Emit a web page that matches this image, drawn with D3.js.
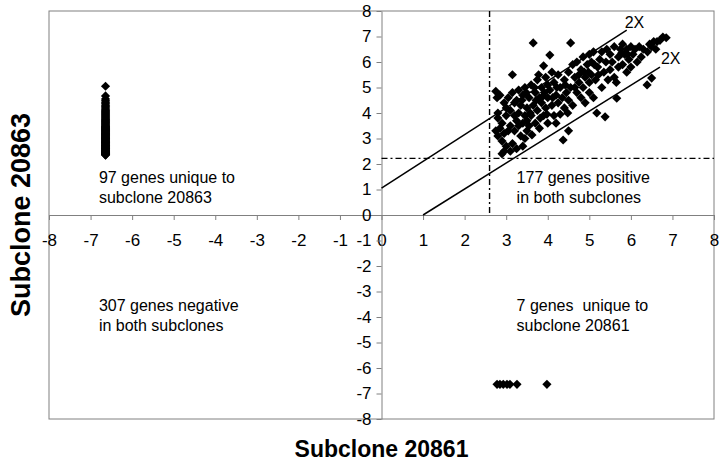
<!DOCTYPE html>
<html lang="en">
<head>
  <meta charset="UTF-8">
  <title>Subclone 20861 vs Subclone 20863</title>
  <script src="https://d3js.org/d3.v7.min.js"></script>
  <style>
    * { margin: 0; padding: 0; }
    body { background: #fff; font-family: 'Liberation Sans', Arial, sans-serif; }
    svg { display: block; }
    .tick text { font-family: 'Liberation Sans', Arial, sans-serif; font-size: 17px; fill: #000; }
    .note { font-size: 16px; fill: #000; white-space: pre; }
    .title { font-size: 23px; font-weight: bold; fill: #000; }
  </style>
</head>
<body>
  <div id="chart"></div>

  <script>
    // log2 signal, genes positive in both subclones [x = 20861, y = 20863]
    const bothPositive = [
      [2.75,4.85],[2.78,4.6],[2.8,3.8],[2.75,3.3],[2.8,3.1],[2.85,4.7],[2.9,3.6],[2.9,2.9],[2.95,2.5],
      [2.95,4.4],[2.85,3.4],[3.0,3.9],[3.0,2.7],[2.95,3.2],[2.8,4.0],[3.0,4.2],[2.9,2.4],
      [3.05,4.6],[3.1,3.5],[3.1,4.1],[3.15,5.5],[3.15,2.8],[3.2,3.3],[3.2,4.4],[3.25,3.7],[3.25,2.6],
      [3.3,4.0],[3.3,4.9],[3.35,3.1],[3.35,4.3],[3.4,2.7],[3.4,3.6],[3.4,4.7],[3.45,3.9],[3.45,5.0],
      [3.5,3.3],[3.5,4.2],[3.05,3.3],[3.1,2.5],[3.2,3.9],[3.3,3.5],[3.38,4.5],[3.48,4.8],[3.15,4.8],
      [3.25,4.5],[3.45,3.0],[3.5,3.7],
      [3.55,4.6],[3.6,5.1],[3.6,3.9],[3.62,3.14],[3.65,6.75],[3.65,4.3],[3.7,4.8],[3.7,3.6],[3.75,5.3],
      [3.75,4.1],[3.8,4.6],[3.8,3.4],[3.85,5.0],[3.85,4.4],[3.9,5.85],[3.9,3.9],[3.92,4.8],[3.95,5.4],
      [3.95,4.2],[4.0,4.6],[4.0,5.1],[4.0,3.6],[3.58,4.0],[3.68,5.0],[3.72,4.5],[3.82,3.8],[3.88,4.65],
      [3.98,3.95],[3.55,3.5],[3.78,5.5],
      [4.05,6.27],[4.05,4.9],[4.1,4.3],[4.1,5.6],[4.15,3.9],[4.15,5.2],[4.2,4.7],[4.2,3.6],[4.25,5.5],
      [4.25,4.4],[4.3,5.0],[4.3,3.95],[4.35,4.6],[4.37,2.94],[4.4,5.3],[4.4,4.2],[4.45,4.8],[4.5,3.3],
      [4.5,5.6],[4.5,4.5],[4.12,4.6],[4.22,5.0],[4.42,5.1],[4.48,4.0],
      [4.55,6.75],[4.55,5.0],[4.6,5.9],[4.6,4.3],[4.65,5.4],[4.7,4.8],[4.7,6.0],[4.75,5.2],[4.8,4.6],
      [4.8,5.7],[4.85,5.0],[4.85,6.2],[4.9,5.4],[4.9,4.4],[4.95,5.9],[5.0,5.2],[5.0,6.3],[5.0,4.8],
      [4.65,5.0],[4.75,5.5],[4.88,5.6],[4.98,5.6],
      [5.05,5.5],[5.05,6.0],[5.1,4.6],[5.1,6.4],[5.15,5.3],[5.18,4.0],[5.2,5.8],[5.25,6.1],[5.3,5.0],
      [5.3,6.4],[5.35,5.6],[5.38,3.85],[5.4,6.0],[5.45,5.3],[5.5,6.3],[5.5,5.7],[5.12,5.9],[5.22,5.5],
      [5.42,6.5],
      [5.55,6.0],[5.6,6.6],[5.6,5.4],[5.66,4.58],[5.7,6.2],[5.7,5.8],[5.75,6.5],[5.8,5.9],[5.8,6.7],
      [5.85,6.3],[5.9,5.6],[5.9,6.5],[5.95,6.1],[6.0,6.6],[6.0,5.8],[5.65,5.2],[5.78,6.35],[5.92,6.3],
      [6.05,6.3],[6.1,6.5],[6.15,6.0],[6.2,6.6],[6.25,6.2],[6.3,6.5],[6.39,5.1],[6.4,6.4],[6.45,6.7],
      [6.5,5.37],[6.5,6.6],[6.55,6.8],[6.6,6.5],[6.63,6.8],[6.7,6.85],[6.77,6.98],[6.85,6.95]
    ];

    // genes only seen in 20863: plotted at the negative placeholder x
    const only20863X = -6.64;
    const only20863Y = [
      5.05, 4.67, 4.55, 4.48, 4.42, 4.36, 4.3, 4.25, 4.2, 4.15, 4.1, 4.06, 4.02, 3.98, 3.94, 3.9,
      3.86, 3.82, 3.78, 3.75, 3.72, 3.69, 3.66, 3.63, 3.6, 3.57, 3.54, 3.51, 3.48, 3.46, 3.44, 3.42,
      3.4, 3.38, 3.36, 3.34, 3.32, 3.3, 3.28, 3.26, 3.24, 3.22, 3.2, 3.18, 3.16, 3.14, 3.12, 3.1,
      3.08, 3.06, 3.04, 3.02, 3.0, 2.98, 2.96, 2.94, 2.92, 2.9, 2.88, 2.86, 2.84, 2.82, 2.8, 2.78,
      2.76, 2.74, 2.72, 2.7, 2.68, 2.66, 2.64, 2.62, 2.6, 2.58, 2.56, 2.54, 2.52, 2.5, 2.48, 2.47,
      2.46, 2.45, 2.44, 2.43, 2.42, 2.41, 2.4, 2.39, 2.38, 2.37, 2.36, 2.35, 2.51, 2.61, 2.73, 2.85, 3.01
    ];

    // genes only seen in 20861: plotted at the negative placeholder y
    const only20861Y = -6.64;
    const only20861X = [2.78, 2.85, 2.93, 3.02, 3.09, 3.26, 3.98];

    // 2-fold lines and cut-offs
    const foldUpper = [[0, 1.05], [5.9, 7.25]];
    const foldLower = [[1, 0], [6.7, 5.8]];
    const cutoffX = 2.6;
    const cutoffY = 2.22;

    const axisTicks = d3.range(-8, 9);

    const notes = [
      { x: -6.8, y: 1.25, lines: ["97 genes unique to", "subclone 20863"] },
      { x: 3.25, y: 1.25, lines: ["177 genes positive", "in both subclones"] },
      { x: -6.8, y: -3.75, lines: ["307 genes negative", "in both subclones"] },
      { x: 3.25, y: -3.75, lines: ["7 genes  unique to", "subclone 20861"] }
    ];

    const width = 720, height = 461;
    const margin = { top: 11, right: 6, bottom: 42, left: 49 };

    const svg = d3.select("#chart").append("svg")
      .attr("width", width)
      .attr("height", height);

    const x = d3.scaleLinear().domain([-8, 8]).range([margin.left, width - margin.right]);
    const y = d3.scaleLinear().domain([-8, 8]).range([height - margin.bottom, margin.top]);

    // plot area frame
    svg.append("rect")
      .attr("x", x(-8)).attr("y", y(8))
      .attr("width", x(8) - x(-8)).attr("height", y(-8) - y(8))
      .attr("fill", "none").attr("stroke", "#808080").attr("stroke-width", 1);

    // axes crossing at the origin; plain hyphen for negatives
    const fmt = d => String(d);
    const xAxis = svg.append("g")
      .attr("transform", `translate(0,${y(0)})`)
      .call(d3.axisBottom(x).tickValues(axisTicks).tickFormat(fmt)
        .tickSize(5).tickSizeOuter(0).tickPadding(14));
    const yAxis = svg.append("g")
      .attr("transform", `translate(${x(0)},0)`)
      .call(d3.axisLeft(y).tickValues(axisTicks).tickFormat(fmt)
        .tickSize(5).tickSizeOuter(0).tickPadding(5));

    [xAxis, yAxis].forEach(g => {
      g.select(".domain").attr("stroke", "#808080");
      g.selectAll(".tick line").attr("stroke", "#808080");
    });

    // cut-off lines (dash-dot)
    svg.append("line")
      .attr("x1", x(cutoffX)).attr("x2", x(cutoffX))
      .attr("y1", y(8)).attr("y2", y(0))
      .attr("stroke", "#000").attr("stroke-width", 1.4).attr("stroke-dasharray", "6,3,2,3");
    svg.append("line")
      .attr("x1", x(0)).attr("x2", x(8))
      .attr("y1", y(cutoffY)).attr("y2", y(cutoffY))
      .attr("stroke", "#000").attr("stroke-width", 1.4).attr("stroke-dasharray", "6,3,2,3");

    // 2X lines
    const line = d3.line().x(d => x(d[0])).y(d => y(d[1]));
    [foldUpper, foldLower].forEach(d => {
      svg.append("path")
        .datum(d)
        .attr("d", line)
        .attr("fill", "none")
        .attr("stroke", "#000")
        .attr("stroke-width", 1.5);
    });
    svg.append("text").attr("class", "note")
      .attr("x", x(foldUpper[1][0]) - 2).attr("y", y(foldUpper[1][1]) - 2)
      .text("2X");
    svg.append("text").attr("class", "note")
      .attr("x", x(foldLower[1][0]) + 1).attr("y", y(foldLower[1][1]) - 3)
      .text("2X");

    // diamond markers
    const diamond = d3.symbol().type(d3.symbolSquare).size(42);
    const points = bothPositive
      .concat(only20863Y.map(v => [only20863X, v]))
      .concat(only20861X.map(v => [v, only20861Y]));

    svg.append("g").selectAll("path")
      .data(points)
      .enter().append("path")
      .attr("d", diamond)
      .attr("transform", d => `translate(${x(d[0])},${y(d[1])}) rotate(45)`)
      .attr("fill", "#000");

    // quadrant notes
    notes.forEach(n => {
      const t = svg.append("text").attr("class", "note")
        .attr("x", x(n.x)).attr("y", y(n.y));
      n.lines.forEach((s, i) => {
        t.append("tspan").attr("x", x(n.x)).attr("dy", i === 0 ? 0 : 20).text(s);
      });
    });

    // axis titles
    svg.append("text").attr("class", "title")
      .attr("x", x(0)).attr("y", 457)
      .attr("text-anchor", "middle")
      .text("Subclone 20861");
    svg.append("text").attr("class", "title")
      .attr("transform", `translate(30,${y(0)}) rotate(-90)`)
      .attr("text-anchor", "middle")
      .style("font-size", "27px")
      .text("Subclone 20863");
  </script>
</body>
</html>
